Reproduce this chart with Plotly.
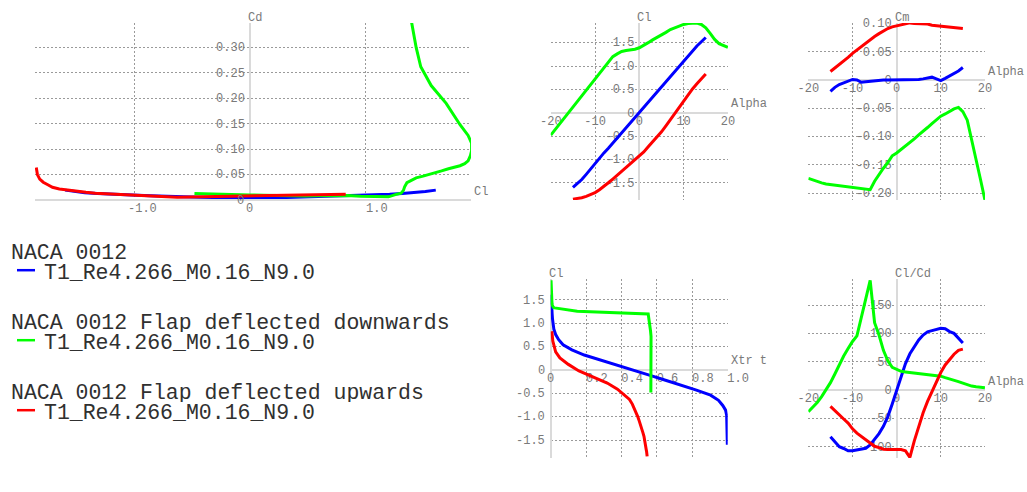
import plotly.graph_objects as go

# ---------------- data ----------------
alpha_clean = list(range(-15, 16))
alpha_up = list(range(-15, 16))
alpha_down = list(range(-20, 21))

# NACA 0012 (blue)
cl_clean = [-1.60, -1.52, -1.43, -1.32, -1.20, -1.08, -0.97, -0.86, -0.76, -0.65,
            -0.54, -0.43, -0.32, -0.22, -0.11, 0.00, 0.11, 0.22, 0.32, 0.43,
            0.54, 0.65, 0.76, 0.87, 0.98, 1.10, 1.21, 1.32, 1.43, 1.52, 1.61]
cd_clean = [0.0194, 0.0165, 0.0143, 0.0128, 0.0112, 0.0101, 0.0092, 0.0083, 0.0074, 0.0067,
            0.0062, 0.0056, 0.0050, 0.0047, 0.0045, 0.0044, 0.0045, 0.0047, 0.0050, 0.0056,
            0.0061, 0.0067, 0.0074, 0.0083, 0.0092, 0.0101, 0.0112, 0.0128, 0.0143, 0.0165, 0.0194]
cm_clean = [-0.020, -0.013, -0.008, -0.005, -0.002, 0.001, 0.000, -0.004, -0.003, -0.002,
            -0.001, 0.000, 0.000, 0.000, 0.000, 0.000, 0.000, 0.000, 0.000, 0.000,
            0.001, 0.002, 0.004, 0.005, 0.002, -0.001, 0.003, 0.007, 0.011, 0.016, 0.022]
xtr_clean = [1.000, 1.000, 1.000, 0.999, 0.998, 0.997, 0.996, 0.990, 0.974, 0.950,
             0.905, 0.825, 0.740, 0.650, 0.558, 0.465, 0.370, 0.275, 0.190, 0.120,
             0.070, 0.045, 0.028, 0.018, 0.013, 0.010, 0.008, 0.007, 0.005, 0.004, 0.003]

# Flap deflected downwards (green)
cl_down = [-0.48, -0.36, -0.24, -0.12, 0.00, 0.12, 0.24, 0.36, 0.48, 0.60,
           0.72, 0.84, 0.96, 1.08, 1.20, 1.26, 1.31, 1.33, 1.34, 1.36,
           1.39, 1.44, 1.50, 1.56, 1.61, 1.66, 1.72, 1.78, 1.82, 1.86,
           1.89, 1.91, 1.92, 1.92, 1.89, 1.82, 1.70, 1.57, 1.48, 1.44,
           1.40]
cd_down = [0.0126, 0.0116, 0.0108, 0.0104, 0.0100, 0.0092, 0.0085, 0.0080, 0.0080, 0.0082,
           0.0084, 0.0088, 0.0075, 0.0067, 0.0062, 0.0106, 0.0135, 0.0190, 0.0260, 0.0340,
           0.0380, 0.0436, 0.0469, 0.0503, 0.0537, 0.0572, 0.0614, 0.0647, 0.0674, 0.0715,
           0.0771, 0.0873, 0.0965, 0.112, 0.127, 0.148, 0.190, 0.225, 0.262, 0.300,
           0.350]
cm_down = [-0.174, -0.177, -0.180, -0.182, -0.184, -0.185, -0.187, -0.188, -0.189, -0.190,
           -0.190, -0.191, -0.192, -0.193, -0.194, -0.179, -0.167, -0.156, -0.146, -0.134,
           -0.129, -0.123, -0.117, -0.110, -0.104, -0.097, -0.091, -0.084, -0.077, -0.070,
           -0.064, -0.060, -0.055, -0.051, -0.0485, -0.056, -0.071, -0.104, -0.141, -0.176,
           -0.212]
xtr_down = [0.567, 0.567, 0.568, 0.568, 0.569, 0.569, 0.570, 0.570, 0.570, 0.570,
            0.568, 0.565, 0.562, 0.558, 0.552, 0.150, 0.035, 0.022, 0.015, 0.011,
            0.009, 0.007, 0.006, 0.006, 0.005, 0.005, 0.004, 0.004, 0.004, 0.003,
            0.003, 0.003, 0.002, 0.002, 0.002, 0.002, 0.002, 0.002, 0.002, 0.002,
            0.002]

# Flap deflected upwards (red)
cl_up = [-1.85, -1.84, -1.82, -1.79, -1.75, -1.71, -1.65, -1.58, -1.50, -1.42,
         -1.34, -1.25, -1.17, -1.09, -1.01, -0.93, -0.84, -0.73, -0.63, -0.52,
         -0.41, -0.28, -0.15, -0.02, 0.12, 0.26, 0.39, 0.51, 0.62, 0.73, 0.83]
cd_up = [0.064, 0.050, 0.041, 0.035, 0.030, 0.025, 0.0217, 0.0193, 0.0170, 0.0151,
         0.0135, 0.0123, 0.0112, 0.0104, 0.0096, 0.0089, 0.0080, 0.0068, 0.0053, 0.0058,
         0.0063, 0.0070, 0.0075, 0.0080, 0.0078, 0.0084, 0.0088, 0.0093, 0.0098, 0.0104, 0.0115]
cm_up = [0.015, 0.021, 0.027, 0.033, 0.040, 0.047, 0.053, 0.060, 0.066, 0.072,
         0.077, 0.082, 0.087, 0.091, 0.094, 0.096, 0.098, 0.100, 0.101, 0.100,
         0.100, 0.099, 0.099, 0.097, 0.096, 0.095, 0.094, 0.093, 0.092, 0.092, 0.091]
xtr_up = [0.546, 0.546, 0.545, 0.544, 0.543, 0.541, 0.539, 0.536, 0.532, 0.528,
          0.522, 0.516, 0.510, 0.501, 0.494, 0.486, 0.474, 0.462, 0.446, 0.415,
          0.378, 0.320, 0.235, 0.160, 0.100, 0.052, 0.028, 0.018, 0.012, 0.009, 0.006]

foil_names = ["NACA 0012", "NACA 0012 Flap deflected downwards", "NACA 0012 Flap deflected upwards"]
polar_name = "T1_Re4.266_M0.16_N9.0"

# tick values / labels
cl_polar_ticks = [-1.0, 0.0, 1.0]
cl_polar_labels = ["-1.0", "0", "1.0"]
cd_ticks = [0.0, 0.05, 0.10, 0.15, 0.20, 0.25, 0.30]
cd_labels = ["0", "0.05", "0.10", "0.15", "0.20", "0.25", "0.30"]
alpha_ticks = [-20, -10, 0, 10, 20]
alpha_labels = ["-20", "-10", "0", "10", "20"]
cl_ticks = [-1.5, -1.0, -0.5, 0.0, 0.5, 1.0, 1.5]
cl_labels = ["-1.5", "-1.0", "-0.5", "0", "0.5", "1.0", "1.5"]
cm_ticks = [-0.20, -0.15, -0.10, -0.05, 0.0, 0.05, 0.10]
cm_labels = ["-0.20", "-0.15", "-0.10", "-0.05", "0", "0.05", "0.10"]
xtr_ticks = [0.0, 0.2, 0.4, 0.6, 0.8, 1.0]
xtr_labels = ["0", "0.2", "0.4", "0.6", "0.8", "1.0"]
clcd_ticks = [-100, -50, 0, 50, 100, 150]
clcd_labels = ["-100", "-50", "0", "50", "100", "150"]

# ---------------- styling / layout ----------------
W, H = 1027, 492
FONT = "Liberation Mono, Courier New, monospace"
TICK_COLOR = "#7a7a7a"
GRID_COLOR = "#9a9a9a"
ZERO_COLOR = "#dadada"
COLORS = ["#0000ff", "#00ff00", "#ff0000"]
CHAR_W = 7.2  # advance of one 12px monospace character

clcd_clean = [l / d for l, d in zip(cl_clean, cd_clean)]
clcd_down = [l / d for l, d in zip(cl_down, cd_down)]
clcd_up = [l / d for l, d in zip(cl_up, cd_up)]

series = [
    dict(alpha=alpha_clean, cl=cl_clean, cd=cd_clean, cm=cm_clean, xtr=xtr_clean, clcd=clcd_clean),
    dict(alpha=alpha_down, cl=cl_down, cd=cd_down, cm=cm_down, xtr=xtr_down, clcd=clcd_down),
    dict(alpha=alpha_up, cl=cl_up, cd=cd_up, cm=cm_up, xtr=xtr_up, clcd=clcd_up),
]

panels = [
    dict(xd=(35, 471), yd=(23, 200), xr=(-1.861, 1.915), yr=(0.0, 0.348),
         xt=cl_polar_ticks, xl=cl_polar_labels, yt=cd_ticks, yl=cd_labels,
         xtitle="Cl", ytitle="Cd", xkey="cl", ykey="cd", pad=True),
    dict(xd=(550.7, 728), yd=(23, 200), xr=(-20.02, 20.02), yr=(-1.869, 1.921),
         xt=alpha_ticks, xl=alpha_labels, yt=cl_ticks, yl=cl_labels,
         xtitle="Alpha", ytitle="Cl", xkey="alpha", ykey="cl", pad=False),
    dict(xd=(808.3, 985), yd=(23, 200), xr=(-20.02, 20.02), yr=(-0.2122, 0.1008),
         xt=alpha_ticks, xl=alpha_labels, yt=cm_ticks, yl=cm_labels,
         xtitle="Alpha", ytitle="Cm", xkey="alpha", ykey="cm", pad=False),
    dict(xd=(550.7, 727.7), yd=(279.3, 458.3), xr=(0.0, 1.002), yr=(-1.891, 1.942),
         xt=xtr_ticks, xl=xtr_labels, yt=cl_ticks, yl=cl_labels,
         xtitle="Xtr t", ytitle="Cl", xkey="xtr", ykey="cl", pad=True),
    dict(xd=(808.3, 985), yd=(279.3, 458), xr=(-20.02, 20.02), yr=(-119.9, 195.4),
         xt=alpha_ticks, xl=alpha_labels, yt=clcd_ticks, yl=clcd_labels,
         xtitle="Alpha", ytitle="Cl/Cd", xkey="alpha", ykey="clcd", pad=False),
]

fig = go.Figure()
layout = dict(width=W, height=H, autosize=False, margin=dict(l=0, r=0, t=0, b=0),
              paper_bgcolor="white", plot_bgcolor="white", hovermode=False,
              showlegend=False)
annotations = []
shapes = []
tickfont = dict(family=FONT, size=12, color=TICK_COLOR)

POS = {"start": ("middle right", "left", -1), "middle": ("middle center", "center", 0),
       "end": ("middle left", "right", 1)}


def add_label(p, xa, ya, x, y, dx, dy, text, anchor):
    """Tick label at data point (x, y) shifted by (dx, dy) pixels (dy > 0 is up).
    Drawn as a text trace (below the curves) when inside the axes, else as annotation."""
    ux = (p["xr"][1] - p["xr"][0]) / (p["xd"][1] - p["xd"][0])
    uy = (p["yr"][1] - p["yr"][0]) / (p["yd"][1] - p["yd"][0])
    dy_t = dy - 0.8
    xx, yy = x + dx * ux, y + dy_t * uy
    tpos, xanchor, pad = POS[anchor]
    if p["xr"][0] <= xx <= p["xr"][1] and p["yr"][0] <= yy <= p["yr"][1]:
        fig.add_trace(go.Scatter(x=[xx], y=[yy], mode="text", text=[text], textposition=tpos,
                                 textfont=tickfont, xaxis=xa, yaxis=ya, cliponaxis=False,
                                 hoverinfo="skip"))
    else:
        annotations.append(dict(xref=xa, yref=ya, x=x, y=y, text=text, showarrow=False,
                                xanchor=xanchor, yanchor="middle", xshift=dx + pad,
                                yshift=dy_t, font=tickfont))


for i, p in enumerate(panels):
    n = "" if i == 0 else str(i + 1)
    xa, ya = "x" + n, "y" + n
    ax_common = dict(showticklabels=False, ticks="", showgrid=True, gridcolor=GRID_COLOR,
                     griddash="2px,2px", gridwidth=1, zeroline=True, zerolinecolor=ZERO_COLOR,
                     zerolinewidth=2, showline=False, fixedrange=True)
    layout["xaxis" + n] = dict(ax_common, domain=[p["xd"][0] / W, p["xd"][1] / W],
                               range=list(p["xr"]), tickvals=p["xt"], anchor=ya)
    layout["yaxis" + n] = dict(ax_common, domain=[1 - p["yd"][1] / H, 1 - p["yd"][0] / H],
                               range=list(p["yr"]), tickvals=p["yt"], anchor=xa)

    # x tick labels (XFLR5 writes fixed-width, left-padded labels)
    for v, s in zip(p["xt"], p["xl"]):
        if p["pad"] and s != "0":
            add_label(p, xa, ya, v, 0, (3 - len(s)) * CHAR_W, -8.5, s, "start")
        else:
            add_label(p, xa, ya, v, 0, 0, -8.5, s, "middle")
    # y tick labels
    for v, s in zip(p["yt"], p["yl"]):
        add_label(p, xa, ya, 0, v, -5, 0, s, "end")

    for s, c in zip(series, COLORS):
        fig.add_trace(go.Scatter(x=s[p["xkey"]], y=s[p["ykey"]], mode="lines",
                                 line=dict(color=c, width=3), xaxis=xa, yaxis=ya,
                                 hoverinfo="skip"))

    # axis titles
    annotations.append(dict(xref=xa, yref=ya, x=p["xr"][1], y=0, text=p["xtitle"],
                            showarrow=False, xanchor="left", yanchor="middle",
                            xshift=1, yshift=8.5, font=tickfont))
    annotations.append(dict(xref=xa, yref=ya, x=0, y=p["yr"][1], text=p["ytitle"],
                            showarrow=False, xanchor="left", yanchor="middle",
                            xshift=-4, yshift=5.5, font=tickfont))

# legend (drawn XFLR5 style)
leg_font = dict(family=FONT, size=21.5, color="#303030")
for k, (name, c) in enumerate(zip(foil_names, COLORS)):
    y_title = 251.7 + 70 * k
    annotations.append(dict(xref="paper", yref="paper", x=9 / W, y=1 - (y_title + 1) / H,
                            text=name, showarrow=False, xanchor="left", yanchor="middle",
                            height=19, font=leg_font))
    annotations.append(dict(xref="paper", yref="paper", x=42 / W, y=1 - (y_title + 20.5) / H,
                            text=polar_name, showarrow=False, xanchor="left", yanchor="middle",
                            height=19, font=leg_font))
    shapes.append(dict(type="line", xref="paper", yref="paper", x0=17 / W, x1=35 / W,
                       y0=1 - (y_title + 18.5) / H, y1=1 - (y_title + 18.5) / H,
                       line=dict(color=c, width=2.5)))

layout["annotations"] = annotations
layout["shapes"] = shapes
fig.update_layout(**layout)
fig.update_traces(showlegend=False)

fig.write_html("out.html", config={"displayModeBar": False},
               post_script="document.body.style.margin='0px';document.body.style.overflow='hidden';")
